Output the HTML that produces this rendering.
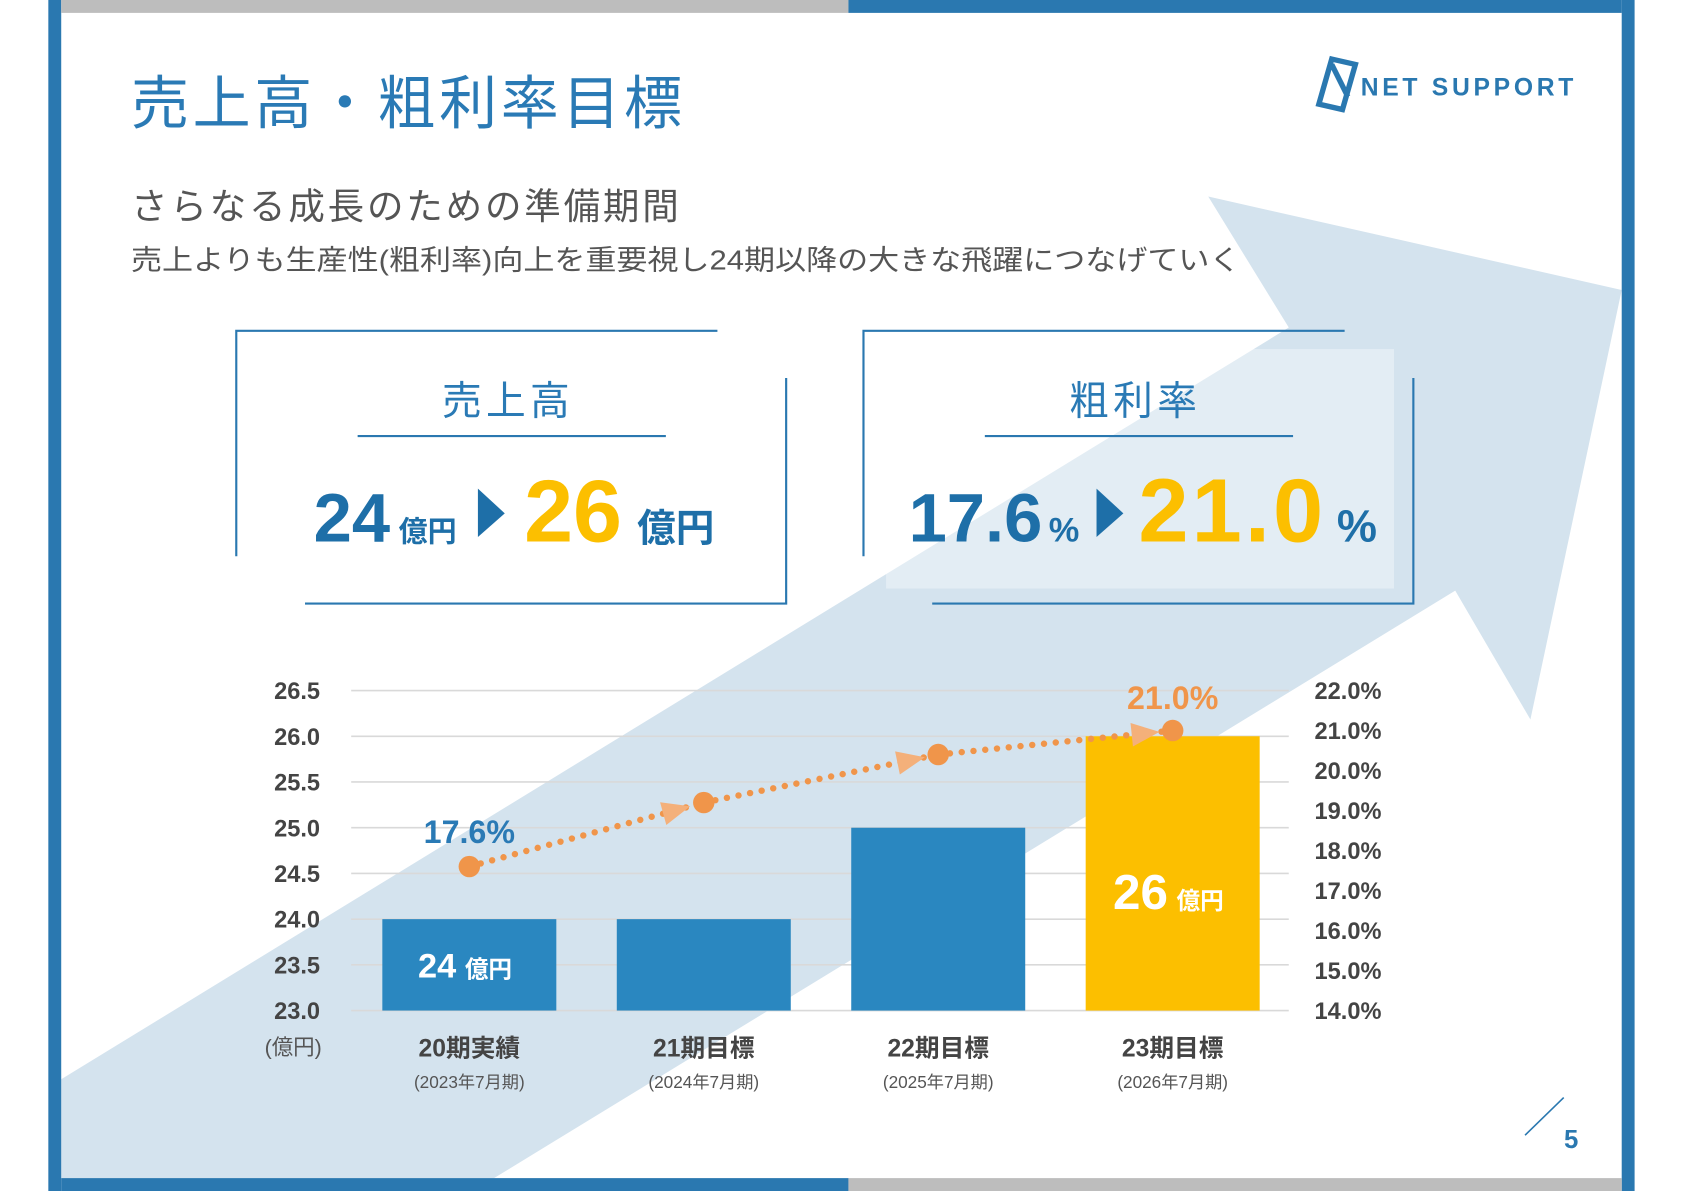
<!DOCTYPE html>
<html><head><meta charset="utf-8"><style>
html,body{margin:0;padding:0;background:#fff}
svg{display:block}
text{font-family:"Liberation Sans","Noto Sans CJK JP",sans-serif}
</style></head><body>
<svg id="s" width="1684" height="1191" viewBox="0 0 1568 1109" preserveAspectRatio="none" xmlns="http://www.w3.org/2000/svg">
<rect width="1568" height="1109" fill="#fff"/>
<polygon points="57,1005 1200,305 1125,183 1510,270 1425,670 1355,550 460,1097 57,1097" fill="#d4e3ee"/>
<rect x="45" y="0" width="12" height="1109" fill="#2a78b0"/>
<rect x="1510" y="0" width="12" height="1109" fill="#2a78b0"/>
<rect x="57" y="0" width="733" height="12" fill="#bdbdbd"/>
<rect x="790" y="0" width="720" height="12" fill="#2a78b0"/>
<rect x="57" y="1097" width="733" height="12" fill="#2a78b0"/>
<rect x="790" y="1097" width="720" height="12" fill="#bdbdbd"/>
<text x="122" y="115" font-size="54" fill="#2a7ab5" textLength="513" lengthAdjust="spacing">売上高・粗利率目標</text>
<g>
<path d="M1240 55 L1262 60 L1250 102 L1228 97 Z M1240 60 L1255 90" fill="none" stroke="#2a78b0" stroke-width="5"/>
<text x="1267" y="89" font-size="23" font-weight="bold" fill="#2a78b0" textLength="198" lengthAdjust="spacing">NET SUPPORT</text>
</g>
<text x="122" y="204" font-size="34" fill="#555" textLength="510" lengthAdjust="spacing">さらなる成長のための準備期間</text>
<text x="122" y="251" font-size="26" fill="#555" textLength="1033" lengthAdjust="spacingAndGlyphs">売上よりも生産性(粗利率)向上を重要視し24期以降の大きな飛躍につなげていく</text>
<g stroke="#2a78b0" stroke-width="2" fill="none">
<path d="M220 518 V308 H668 M732 352 V562 H284"/>
<line x1="333" y1="406" x2="620" y2="406"/>
</g>
<rect x="825" y="325" width="473" height="223" fill="#fff" opacity="0.35"/>
<g stroke="#2a78b0" stroke-width="2" fill="none">
<path d="M804 518 V308 H1252 M1316 352 V562 H868"/>
<line x1="917" y1="406" x2="1204" y2="406"/>
</g>
<text x="473" y="386" font-size="37" fill="#2a7ab5" text-anchor="middle" letter-spacing="4">売上高</text>
<text x="1057" y="386" font-size="37" fill="#2a7ab5" text-anchor="middle" letter-spacing="4">粗利率</text>
<text x="292" y="504" font-size="64" font-weight="bold" fill="#1e6fa8">24<tspan font-size="27" dx="8">億円</tspan></text>
<polygon points="445,455 470,478 445,500" fill="#1e6fa8"/>
<text x="488" y="504" font-size="82" font-weight="bold" fill="#fcbf00">26<tspan font-size="36" dx="14" fill="#1e6fa8">億円</tspan></text>
<text x="846" y="504" font-size="64" font-weight="bold" fill="#1e6fa8">17.6<tspan font-size="32" dx="6">%</tspan></text>
<polygon points="1021,455 1046,478 1021,500" fill="#1e6fa8"/>
<text x="1060" y="504" font-size="84" font-weight="bold" fill="#fcbf00"><tspan textLength="172" lengthAdjust="spacing">21.0</tspan><tspan font-size="42" dx="10" fill="#1e6fa8">%</tspan></text>
<g id="chart"></g>
<line x1="1420" y1="1057" x2="1456" y2="1022" stroke="#2a78b0" stroke-width="1.5"/>
<text x="1463" y="1069" font-size="24" font-weight="bold" fill="#2a78b0" text-anchor="middle">5</text>
</svg>
<script>
const categories=["20期実績","21期目標","22期目標","23期目標"];
const periods=["(2023年7月期)","(2024年7月期)","(2025年7月期)","(2026年7月期)"];
const sales=[24,24,25,26];
const margins=[17.6,19.2,20.4,21.0];
const leftTicks=[23.0,23.5,24.0,24.5,25.0,25.5,26.0,26.5];
const rightTicks=[14,15,16,17,18,19,20,21,22];
const NS="http://www.w3.org/2000/svg";
const g=document.getElementById('chart');
const x0=327,x1=1200,yb=941,yt=643;
const yL=v=>yb-(v-23)/(26.5-23)*(yb-yt);
const yR=v=>yb-(v-14)/(22-14)*(yb-yt);
const xC=i=>437+i*218.3;
function mk(t,a,p){const e=document.createElementNS(NS,t);for(const k in a)e.setAttribute(k,a[k]);(p||g).appendChild(e);return e;}
leftTicks.forEach(v=>{
 const l=mk('line',{x1:x0,x2:x1,y1:yL(v),y2:yL(v),stroke:'#d9d9d9','stroke-width':1.5});
 
 
 const t=mk('text',{x:298,y:yL(v)+8,'font-size':22,'font-weight':'bold',fill:'#444','text-anchor':'end'});t.textContent=v.toFixed(1);
 
 
});
rightTicks.forEach(v=>{
 const t=mk('text',{x:1224,y:yR(v)+8,'font-size':22,'font-weight':'bold',fill:'#444'});t.textContent=v.toFixed(1)+'%';
 
 
});
const u=mk('text',{x:273,y:982,'font-size':20,fill:'#555','text-anchor':'middle'});u.textContent='(億円)';


sales.forEach((v,i)=>{
 const r=mk('rect',{x:xC(i)-81,y:yL(v),width:162,height:yb-yL(v),fill:i==3?'#fcbf00':'#2a87c0'});
 
 
 const c=mk('text',{x:xC(i),y:984,'font-size':23,'font-weight':'bold',fill:'#444','text-anchor':'middle'});c.textContent=categories[i];
 
 
 const p=mk('text',{x:xC(i),y:1013,'font-size':16,fill:'#555','text-anchor':'middle'});p.textContent=periods[i];
 
 
});
[[0,'24',32],[3,'26',46]].forEach(([i,s,fs])=>{
 const y=i==0?(yL(sales[0])+yb)/2+12:(yL(sales[3])+yb)/2+33;
 const t=mk('text',{x:xC(i)-4,y:y,'font-size':fs,'font-weight':'bold',fill:'#fff','text-anchor':'middle'});
 t.textContent=s;const ts=mk('tspan',{'font-size':22,dx:8},t);ts.textContent='億円';
 
 
});
for(let i=0;i<margins.length-1;i++){
 const ax=xC(i),ay=yR(margins[i]),bx=xC(i+1),by=yR(margins[i+1]);
 const l=mk('line',{x1:ax,y1:ay,x2:bx,y2:by,stroke:'#f0954a','stroke-width':6,'stroke-dasharray':'0 11','stroke-linecap':'round'});
 
 
 const ang=Math.atan2(by-ay,bx-ax)*180/Math.PI;const mx=bx-(bx-ax)*0.12,my=by-(by-ay)*0.12;
 const a=mk('polygon',{points:'-12,-11 14,0 -12,11',fill:'#f4b07a',transform:`translate(${mx},${my}) rotate(${ang})`});
 
 
}
margins.forEach((v,i)=>{
 const c=mk('circle',{cx:xC(i),cy:yR(v),r:10,fill:'#f0954a'});
 
 
});
const l1=mk('text',{x:xC(0),y:yR(margins[0])-22,'font-size':30,'font-weight':'bold',fill:'#2a7ab5','text-anchor':'middle'});l1.textContent=margins[0].toFixed(1)+'%';


const l2=mk('text',{x:xC(3),y:yR(margins[3])-20,'font-size':30,'font-weight':'bold',fill:'#f0954a','text-anchor':'middle'});l2.textContent=margins[3].toFixed(1)+'%';


</script>
</body></html>
